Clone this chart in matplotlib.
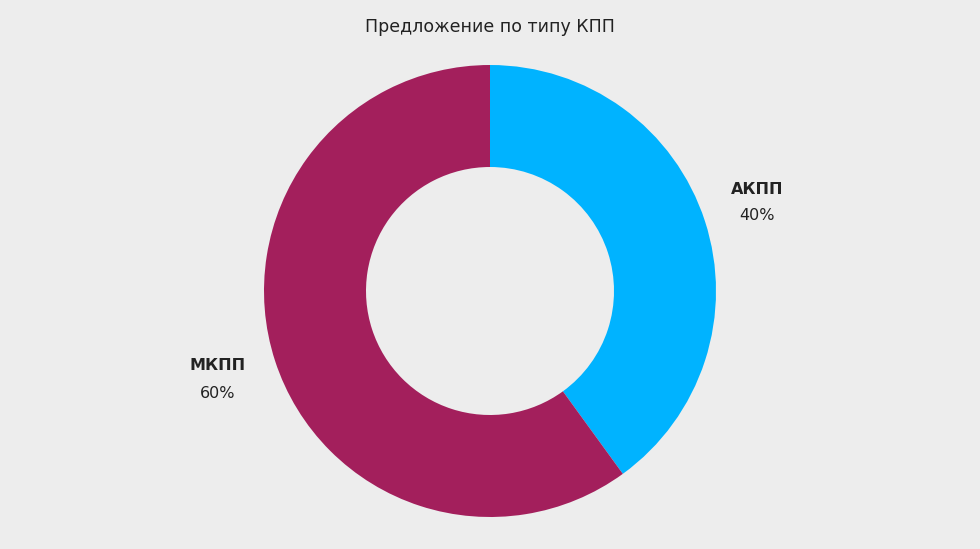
import matplotlib
matplotlib.use("Agg")
import matplotlib.pyplot as plt

title = "Предложение по типу КПП"
categories = ["АКПП", "МКПП"]
values = [40, 60]
colors = ["#00B3FF", "#A31F5C"]

fig = plt.figure(figsize=(9.8, 5.49), dpi=100)
fig.patch.set_facecolor("#EDEDED")
ax = fig.add_axes([0, 0, 1, 1])
ax.set_facecolor("#EDEDED")
ax.set_xlim(0, 980)
ax.set_ylim(0, 549)
ax.set_aspect("equal")
ax.axis("off")

ax.pie(values, colors=colors, startangle=90, counterclock=False,
       center=(490, 258), radius=226, frame=True,
       wedgeprops=dict(width=102, edgecolor="none"))
ax.set_xlim(0, 980)
ax.set_ylim(0, 549)
ax.axis("off")

fig.text(0.5, 1 - 27/549, title, ha="center", va="center", fontsize=12.5, color="#222222")
label_pos = [(757, 190, 216), (218, 366, 393)]
for cat, v, (x, y1, y2) in zip(categories, values, label_pos):
    fig.text(x/980, 1 - y1/549, cat, ha="center", va="center", fontsize=11.5, fontweight="bold", color="#222222")
    fig.text(x/980, 1 - y2/549, f"{v}%", ha="center", va="center", fontsize=11.5, color="#222222")

fig.savefig("out.png", dpi=100, facecolor=fig.get_facecolor())
